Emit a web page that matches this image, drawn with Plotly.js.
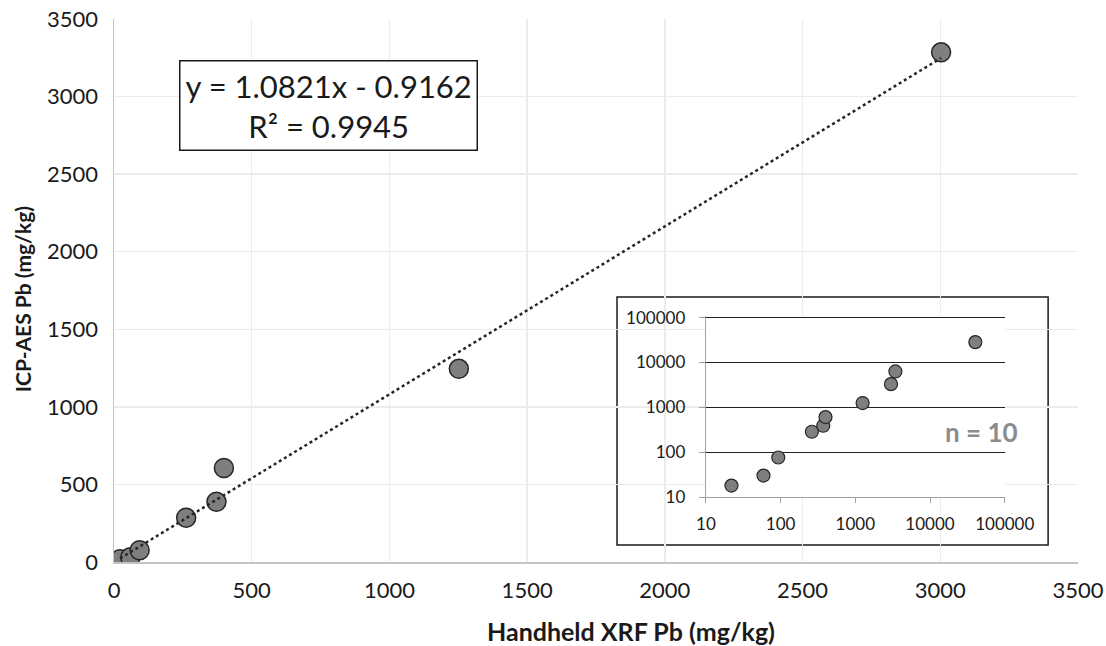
<!DOCTYPE html>
<html>
<head>
<meta charset="utf-8">
<script src="https://cdn.plot.ly/plotly-3.0.1.min.js"></script>
<style>html,body{margin:0;padding:0;background:#fff;}#chart{width:1106px;height:646px;}</style>
</head>
<body>
<div id="chart"></div>
<script>
// Data (mg/kg)
const xrfPb = [22, 59, 93, 262, 372, 399, 1252, 3003, 3440, 40400];
const icpPb = [18, 30, 76, 285, 388, 606, 1245, 3285, 6300, 28400];
// Linear fit shown on chart (fit over the points within the main axis)
const fitSlope = 1.0821;
const fitIntercept = -0.9162;
const fitR2 = 0.9945;
const sampleCount = 10;
const mainTicks = [0, 500, 1000, 1500, 2000, 2500, 3000, 3500];
const insetTicks = [10, 100, 1000, 10000, 100000];
const xTitle = 'Handheld XRF Pb (mg/kg)';
const yTitle = 'ICP-AES Pb (mg/kg)';

const FONT = 'Lato, "Open Sans", sans-serif';
const mainX = xrfPb.filter((v, i) => v <= 3500 && icpPb[i] <= 3500);
const fitX = [Math.min(...mainX), Math.max(...mainX)];
const fitY = fitX.map(v => fitSlope * v + fitIntercept);

const traces = [
  {
    x: xrfPb, y: icpPb, type: 'scatter', mode: 'markers',
    xaxis: 'x', yaxis: 'y',
    marker: {size: 19, color: '#7f7f7f', line: {color: '#262626', width: 1.5}},
    hoverinfo: 'x+y'
  },
  {
    x: fitX, y: fitY, type: 'scatter', mode: 'lines',
    xaxis: 'x', yaxis: 'y',
    line: {color: '#262626', width: 2.5, dash: 'dot'},
    hoverinfo: 'skip'
  },
  {
    x: xrfPb, y: icpPb, type: 'scatter', mode: 'markers',
    xaxis: 'x2', yaxis: 'y2',
    marker: {size: 13, color: '#7f7f7f', line: {color: '#262626', width: 1.2}},
    hoverinfo: 'x+y'
  }
];

const layout = {
  width: 1106, height: 646,
  margin: {l: 114, r: 28, t: 19, b: 84},
  paper_bgcolor: '#fff', plot_bgcolor: '#fff',
  showlegend: false,
  font: {family: FONT, color: '#1a1a1a'},
  xaxis: {
    domain: [0, 1], range: [0, 3500],
    tickvals: mainTicks, ticktext: mainTicks.map(String),
    showgrid: true, gridcolor: '#ececec', gridwidth: 1.5,
    zeroline: false, showline: true, linecolor: '#c4c4c4', linewidth: 1.5,
    ticks: '', tickfont: {size: 22, family: FONT, color: '#1a1a1a'},
    ticklabelstandoff: 8
  },
  yaxis: {
    domain: [0, 1], range: [0, 3500],
    tickvals: mainTicks, ticktext: mainTicks.map(String),
    showgrid: true, gridcolor: '#ececec', gridwidth: 1.5,
    zeroline: false, showline: true, linecolor: '#c4c4c4', linewidth: 1.5,
    ticks: '', tickfont: {size: 22, family: FONT, color: '#1a1a1a'},
    ticklabelstandoff: 10
  },
  xaxis2: {
    domain: [0.614, 0.924], anchor: 'y2', type: 'log',
    range: [1, 5], tickvals: insetTicks, ticktext: insetTicks.map(String),
    showgrid: false, zeroline: false, showline: true, linecolor: '#a0a0a0', linewidth: 1.2,
    ticks: 'outside', ticklen: 5, tickcolor: '#a0a0a0',
    tickfont: {size: 17, family: FONT, color: '#1a1a1a'},
    ticklabelstandoff: 6
  },
  yaxis2: {
    domain: [0.1197, 0.4534], anchor: 'x2', type: 'log',
    range: [1, 5.04], tickvals: insetTicks, ticktext: insetTicks.map(String),
    showgrid: true, gridcolor: '#222', gridwidth: 1.3,
    zeroline: false, showline: true, linecolor: '#a0a0a0', linewidth: 1.2,
    ticks: 'outside', ticklen: 6, tickcolor: '#a0a0a0',
    tickfont: {size: 17, family: FONT, color: '#1a1a1a'},
    ticklabelstandoff: 10
  },
  shapes: [
    {type: 'rect', xref: 'paper', yref: 'paper', x0: 0.5218, x1: 0.969, y0: 0.0313, y1: 0.488,
     fillcolor: '#fff', line: {color: '#1a1a1a', width: 1.5}, layer: 'below'}
  ],
  annotations: [
    {xref: 'paper', yref: 'paper', x: 0.222, y: 0.84, xanchor: 'center', yanchor: 'middle',
     text: 'y = ' + fitSlope.toFixed(4) + 'x - ' + Math.abs(fitIntercept).toFixed(4) + '<br>R² = ' + fitR2.toFixed(4),
     showarrow: false, align: 'center',
     font: {size: 31, family: FONT, color: '#1a1a1a'},
     bgcolor: '#fff', bordercolor: '#1a1a1a', borderwidth: 1.5, borderpad: 5},
    {xref: 'paper', yref: 'paper', x: 0.90, y: 0.239, xanchor: 'center', yanchor: 'middle',
     text: 'n = ' + sampleCount, showarrow: false,
     font: {size: 26, family: FONT, color: '#8c8c8c', weight: 'bold'}},
    {xref: 'paper', yref: 'paper', x: 0.536, y: -0.127, xanchor: 'center', yanchor: 'middle',
     text: xTitle, showarrow: false,
     font: {size: 25, family: FONT, color: '#1a1a1a', weight: 'bold'}},
    {xref: 'paper', yref: 'paper', x: -0.0954, y: 0.484, xanchor: 'center', yanchor: 'middle',
     text: yTitle, showarrow: false, textangle: -90,
     font: {size: 21, family: FONT, color: '#1a1a1a', weight: 'bold'}}
  ]
};

Plotly.newPlot('chart', traces, layout, {displayModeBar: false, staticPlot: true});
</script>
</body>
</html>
